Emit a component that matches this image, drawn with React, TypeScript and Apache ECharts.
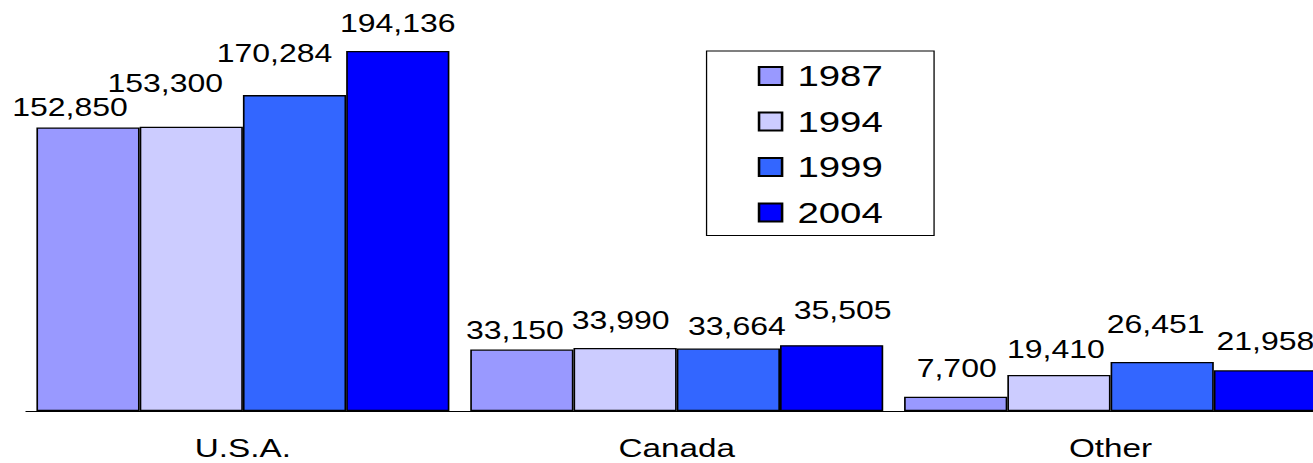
import React, { useEffect, useRef } from "react";
import * as echarts from "echarts";

const categories = ["U.S.A.", "Canada", "Other"];
const years = ["1987", "1994", "1999", "2004"];
const values1987 = [152850, 33150, 7700];
const values1994 = [153300, 33990, 19410];
const values1999 = [170284, 33664, 26451];
const values2004 = [194136, 35505, 21958];

const seriesValues = [values1987, values1994, values1999, values2004];
const colors = ["#9999FF", "#CCCCFF", "#3366FF", "#0000FF"];

// horizontal stretch of the whole drawing
const SX = 1.28;
// label nudges [dx(display px), dy] per year per category
const LABEL_NUDGE = [
  [[-18, -3], [-7, -2], [1, -11]],
  [[-26, -26], [-4.5, -10], [-3, -8]],
  [[-20, -24], [8.5, -5], [-6.5, -20]],
  [[0, -10], [11, -17], [0, -11]],
];

const FONT = "'Liberation Sans', Arial, sans-serif";

export default function App() {
  const ref = useRef<HTMLDivElement>(null);
  useEffect(() => {
    if (!ref.current) return;
    const chart = echarts.init(ref.current, null, { renderer: "svg" });
    chart.setOption({
      animation: false,
      backgroundColor: "#ffffff",
      textStyle: { fontFamily: FONT },
      grid: { left: 20.3, right: 12.9, top: 40, bottom: 52, containLabel: false },
      legend: {
        orient: "vertical",
        left: 552,
        top: 51,
        data: years,
        icon: "rect",
        itemWidth: 18,
        itemHeight: 18,
        itemGap: 15.5,
        padding: [10, 40, 8, 40],
        borderColor: "#000",
        borderWidth: 1,
        textStyle: { fontSize: 30, color: "#000", fontFamily: FONT, padding: [0, 0, 0, 7] },
      },
      xAxis: {
        type: "category",
        data: categories,
        axisLine: { show: true, lineStyle: { color: "#000", width: 1 } },
        axisTick: { show: false },
        axisLabel: { fontSize: 26, color: "#000", margin: 24, fontFamily: FONT },
      },
      yAxis: {
        type: "value",
        min: 0,
        max: 200000,
        show: false,
        splitLine: { show: false },
      },
      series: years.map((y, si) => ({
        name: y,
        type: "bar",
        barGap: "0%",
        barCategoryGap: "4.8%",
        itemStyle: { color: colors[si], borderColor: "#000", borderWidth: 1.3 },
        label: {
          show: true,
          position: "top",
          fontSize: 25,
          color: "#000",
          fontFamily: FONT,
          formatter: (p: any) => Number(p.value).toLocaleString("en-US"),
        },
        data: seriesValues[si].map((v, ci) => ({
          value: v,
          label: { offset: [LABEL_NUDGE[si][ci][0] / SX, LABEL_NUDGE[si][ci][1]] },
        })),
      })),
    });
    return () => chart.dispose();
  }, []);
  return (
    <div
      style={{
        position: "fixed",
        left: 0,
        top: 0,
        width: 1313,
        height: 463,
        overflow: "hidden",
        background: "#fff",
      }}
    >
      <div
        ref={ref}
        style={{ width: 1050, height: 463, transform: `scaleX(${SX})`, transformOrigin: "0 0" }}
      />
    </div>
  );
}
